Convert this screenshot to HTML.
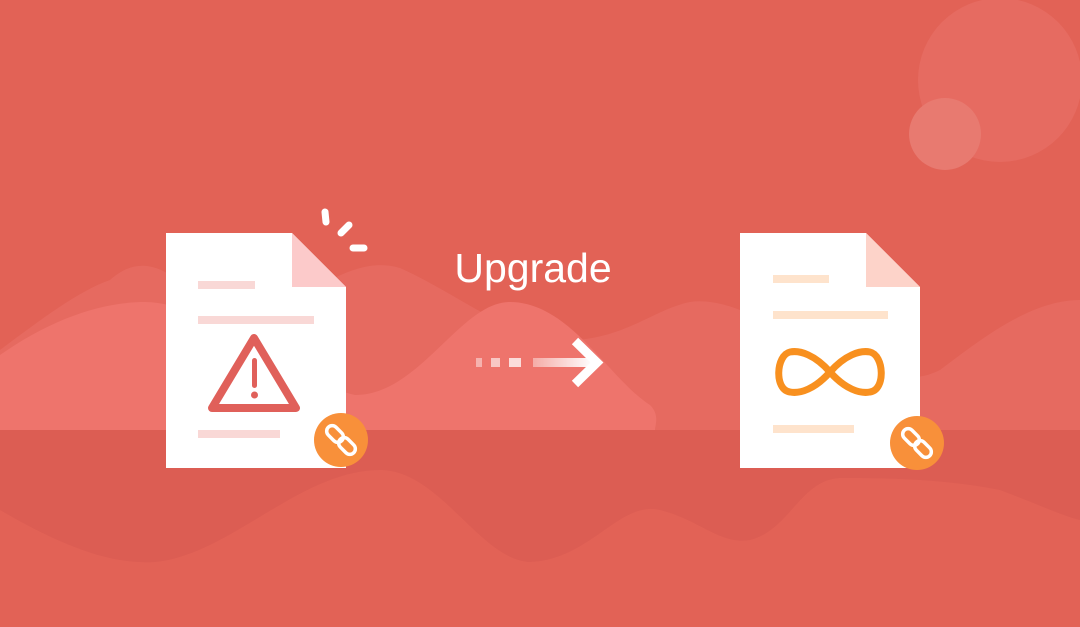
<!DOCTYPE html>
<html><head><meta charset="utf-8"><style>
html,body{margin:0;padding:0;}
body{width:1080px;height:627px;overflow:hidden;background:#E26256;}
svg{display:block}
</style></head><body>
<svg width="1080" height="627" viewBox="0 0 1080 627" xmlns="http://www.w3.org/2000/svg">
<defs>
<linearGradient id="ag" x1="0" x2="1" y1="0" y2="0">
<stop offset="0" stop-color="#fff" stop-opacity="0.4"/>
<stop offset="1" stop-color="#fff" stop-opacity="1"/>
</linearGradient>
</defs>
<rect width="1080" height="627" fill="#E26256"/>
<circle cx="1000" cy="80" r="82" fill="#E66B61"/>
<circle cx="945" cy="134" r="36" fill="#E87A70"/>
<path d="M0,350 C40,320 80,290 110,280 C130,262 150,262 170,275 C230,300 280,300 330,280 C360,265 380,262 400,268 C450,290 500,330 550,340 C620,345 650,310 690,302 C730,296 780,330 820,350 L860,370 C900,380 920,380 940,370 C980,340 1030,300 1080,300 L1080,430 L0,430 Z" fill="#E66A60"/>
<path d="M0,355 C50,320 100,302 145,302 C210,302 290,380 355,395 C420,395 460,302 510,302 C570,302 610,380 650,405 C660,415 655,425 655,430 L0,430 Z" fill="#EE746C"/>
<rect x="0" y="430" width="1080" height="197" fill="#DC5D53"/>
<path d="M0,510 C60,545 110,565 155,562 C230,555 300,470 380,470 C440,470 480,560 530,562 C590,560 620,500 660,510 C700,520 720,545 750,540 C790,530 800,480 840,478 C900,478 950,480 1000,490 C1040,505 1060,515 1080,520 L1080,627 L0,627 Z" fill="#E26256"/>
<path d="M166,233 L292,233 L346,287 L346,468 L166,468 Z" fill="#fff"/>
<path d="M292,233 L346,287 L292,287 Z" fill="#FCCACA"/>
<rect x="198" y="281" width="57" height="8" fill="#F9D8D6"/>
<rect x="198" y="316" width="116" height="8" fill="#F9D8D6"/>
<rect x="198" y="430" width="82" height="8" fill="#F9D8D6"/>
<path d="M254,338 L296,408 L212,408 Z" fill="none" stroke="#E0605A" stroke-width="8" stroke-linejoin="round"/>
<rect x="252" y="358" width="5" height="30" rx="2.5" fill="#E0605A"/>
<circle cx="254.5" cy="395" r="3.5" fill="#E0605A"/>
<circle cx="341" cy="440" r="27" fill="#F8903A"/>
<g fill="none" stroke="#fff" stroke-width="3.5">
<rect x="329.5" y="424.5" width="11" height="19" rx="5.5" transform="rotate(-45 335 434)"/>
<rect x="341.5" y="436.5" width="11" height="19" rx="5.5" transform="rotate(-45 347 446)"/>
</g>
<g stroke="#fff" stroke-width="7" stroke-linecap="round">
<line x1="325" y1="212" x2="326" y2="222"/>
<line x1="341" y1="233" x2="349" y2="225"/>
<line x1="353" y1="248" x2="364" y2="248"/>
</g>
<text x="533" y="282" text-anchor="middle" font-family="Liberation Sans, sans-serif" font-size="41" fill="#fff">Upgrade</text>
<rect x="476" y="358" width="6" height="9" fill="#fff" opacity="0.45"/>
<rect x="491" y="358" width="9" height="9" fill="#fff" opacity="0.6"/>
<rect x="509" y="358" width="12" height="9" fill="#fff" opacity="0.75"/>
<rect x="533" y="358" width="60" height="9" fill="url(#ag)"/>
<polyline points="575,341 597,362.5 575,384" fill="none" stroke="#fff" stroke-width="9"/>
<path d="M740,233 L866,233 L920,287 L920,468 L740,468 Z" fill="#fff"/>
<path d="M866,233 L920,287 L866,287 Z" fill="#FDD3C9"/>
<rect x="773" y="275" width="56" height="8" fill="#FEE3CC"/>
<rect x="773" y="311" width="115" height="8" fill="#FEE3CC"/>
<rect x="773" y="425" width="81" height="8" fill="#FEE3CC"/>
<path d="M830,372 C815,355 800,350 790,352 C776,355 774,390 790,392 C800,394 815,389 830,372 C845,355 860,350 870,352 C884,355 886,390 870,392 C860,394 845,389 830,372 Z" fill="none" stroke="#F8901F" stroke-width="7"/>
<circle cx="917" cy="443" r="27" fill="#F8903A"/>
<g fill="none" stroke="#fff" stroke-width="3.5">
<rect x="905.5" y="427.5" width="11" height="19" rx="5.5" transform="rotate(-45 911 437)"/>
<rect x="917.5" y="439.5" width="11" height="19" rx="5.5" transform="rotate(-45 923 449)"/>
</g>
</svg>
</body></html>
